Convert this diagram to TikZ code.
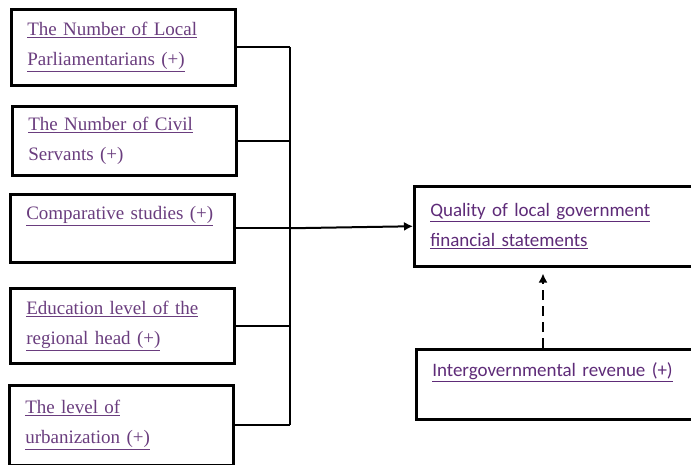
\documentclass[tikz,border=0pt]{standalone}
\usepackage{fontspec}
\usetikzlibrary{positioning, calc, arrows.meta}
\newfontfamily\boxserif{Liberation Serif}
\newfontfamily\boxsans{Carlito}
\definecolor{linkpurple}{HTML}{6A3D7E}
\definecolor{linkviolet}{HTML}{5E2B78}

\begin{document}
\begin{tikzpicture}[x=1pt, y=-1pt,
    factor/.style={draw, line width=2.5pt, anchor=north west, text width=192pt, inner xsep=16pt, inner ysep=0pt, align=left, text=linkpurple, font=\boxserif\fontsize{19}{30}\selectfont},
    outcome/.style={factor, text width=278pt, text=linkviolet, font=\boxsans\fontsize{19}{30}\selectfont},
    link/.style={line width=2pt},
    leads/.style={link, -{Latex[length=9pt,width=9pt]}}]
    \useasboundingbox (0,0) rectangle (691,464);
    \clip (0,0) rectangle (691,464);
    % independent variables
    \node[factor, minimum height=76pt] (members) at (10,8) {\underline{The Number of Local}\\\underline{Parliamentarians (+)}};
    \node[factor, minimum height=69pt] (servants) at (11,105) {\underline{The Number of Civil}\\Servants (+)};
    \node[factor, minimum height=68pt] (studies) at (9,193) {\underline{Comparative studies (+)}\\\mbox{}};
    \node[factor, minimum height=75pt] (education) at (9,287) {\underline{Education level of the}\\\underline{regional head (+)}};
    \node[factor, minimum height=80pt] (urban) at (8,384) {\underline{The level of}\\\underline{urbanization (+)}};
    % dependent and moderating variables
    \node[outcome, minimum height=80pt] (quality) at (413,185) {\underline{Quality of local government}\\\underline{financial statements}};
    \node[outcome, minimum height=70pt] (revenue) at (415,348) {\underline{Intergovernmental revenue (+)}\\\mbox{}};
    \coordinate (bus) at (290,0);
    \coordinate (dashline) at (543,0);
    \foreach \f in {members, servants, studies, education, urban}
        \draw[link] (\f.east) -- (\f.east -| bus);
    \draw[link] (members.east -| bus) -- (urban.east -| bus);
    \draw[leads] (studies.east -| bus) -- (quality.west);
    \draw[leads, dash pattern=on 10pt off 6pt] (revenue.north -| dashline) -- ([yshift=-6pt]quality.south -| dashline);
\end{tikzpicture}
\end{document}
